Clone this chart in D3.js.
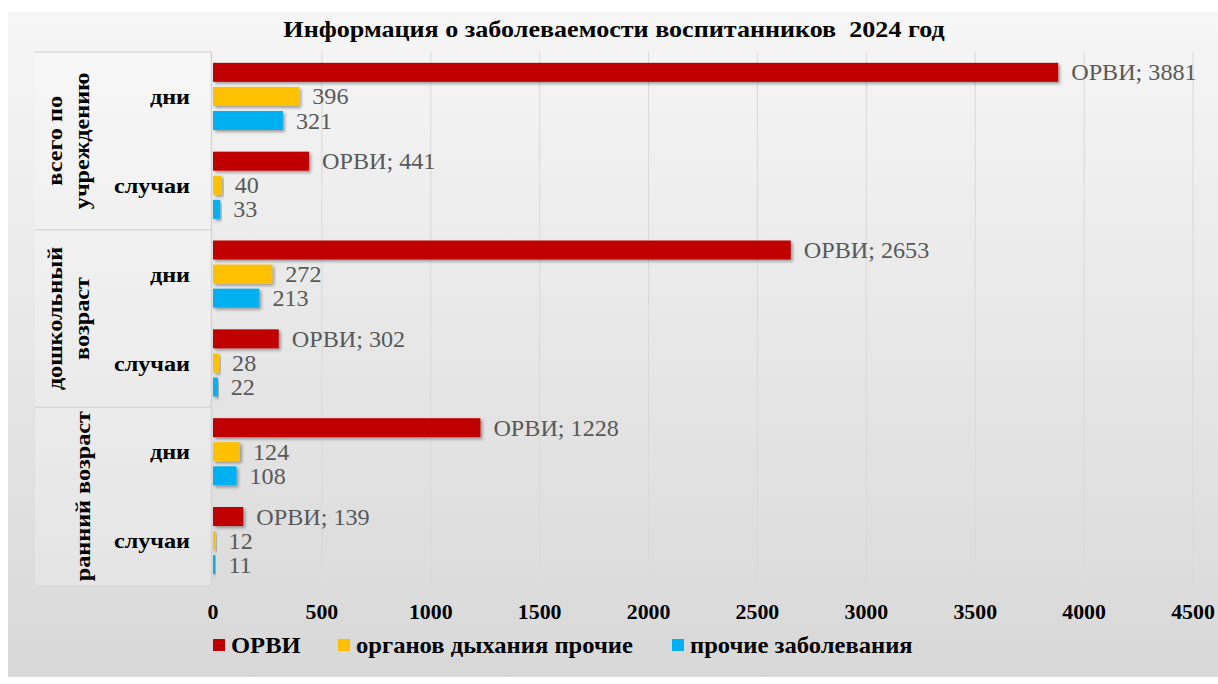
<!DOCTYPE html>
<html>
<head>
<meta charset="utf-8">
<script src="https://cdn.jsdelivr.net/npm/d3@7"></script>
<style>
body { margin: 0; background: #fff; }
svg { display: block; }
</style>
</head>
<body>
<svg id="chart" width="1218" height="684"></svg>
<script>
// data
var groups = ["всего по учреждению", "дошкольный возраст", "ранний возраст"]
var groupLines = [["всего по", "учреждению"], ["дошкольный", "возраст"], ["ранний возраст"]]
var kinds = ["дни", "случаи"]
var seriesNames = ["ОРВИ", "органов дыхания прочие", "прочие заболевания"]
var orvi = [3881, 441, 2653, 302, 1228, 139]
var breath = [396, 40, 272, 28, 124, 12]
var other = [321, 33, 213, 22, 108, 11]
var ticks = [0, 500, 1000, 1500, 2000, 2500, 3000, 3500, 4000, 4500]
var colors = ["#c00000", "#ffc000", "#00b0f0"]

var FONT = "'Liberation Serif', 'Times New Roman', 'DejaVu Serif', serif"
var svg = d3.select("#chart")
var chart = {
	left: 213, right: 1193, top: 52, bottom: 585
}

// text in the picture is a bit wider than the font: stretch it horizontally
function place(x, y, sx, rot) {
	return "translate(" + x + "," + y + ")" + (rot ? " rotate(" + rot + ")" : "") + " scale(" + sx + ",1)"
}

var defs = svg.append("defs")
var grad = defs.append("linearGradient").attr("id", "bg").attr("x1", 0).attr("y1", 0).attr("x2", 0).attr("y2", 1)
grad.append("stop").attr("offset", "0%").attr("stop-color", "#f6f6f6")
grad.append("stop").attr("offset", "100%").attr("stop-color", "#d8d8d8")
defs.append("filter").attr("id", "shadow").attr("x", "-10%").attr("y", "-30%").attr("width", "130%").attr("height", "180%")
	.append("feDropShadow").attr("dx", 2).attr("dy", 2).attr("stdDeviation", 1.5)
	.attr("flood-color", "#000").attr("flood-opacity", 0.35)

svg.append("rect").attr("x", 8).attr("y", 12).attr("width", 1210).attr("height", 665).attr("fill", "url(#bg)")

// rows: group x kind
var rows = []
groups.forEach(function(g, gi) {
	kinds.forEach(function(k, ki) {
		var i = gi * 2 + ki
		rows.push({ id: i, group: gi, kind: k, values: [orvi[i], breath[i], other[i]] })
	})
})

var x = d3.scaleLinear().domain([0, 4500]).range([chart.left, chart.right])
var y = d3.scaleBand().domain(rows.map(function(d) { return d.id })).range([chart.top, chart.bottom])
var yInner = d3.scaleBand().domain([0, 1, 2]).range([0, y.bandwidth()]).paddingInner(0.21).paddingOuter(0.45)

// light box behind category labels
svg.append("rect").attr("x", 35).attr("y", chart.top).attr("width", 176).attr("height", chart.bottom - chart.top)
	.attr("fill", "#ffffff").attr("opacity", 0.25)

// gridlines
svg.append("g").selectAll("line").data(ticks.slice(1)).enter().append("line")
	.attr("x1", function(d) { return x(d) }).attr("x2", function(d) { return x(d) })
	.attr("y1", chart.top).attr("y2", chart.bottom)
	.attr("stroke", "#d9d9d9").attr("stroke-width", 1)

// axis line + group separators
svg.append("line").attr("x1", 211.5).attr("x2", 211.5).attr("y1", chart.top).attr("y2", chart.bottom)
	.attr("stroke", "#d4d4d4").attr("stroke-width", 1.5)
svg.append("g").selectAll("line").data([0, 2, 4]).enter().append("line")
	.attr("x1", 35).attr("x2", 211)
	.attr("y1", function(d) { return y(d) }).attr("y2", function(d) { return y(d) })
	.attr("stroke", "#d9d9d9").attr("stroke-width", 1.5)

// x tick labels
svg.append("g").selectAll("text").data(ticks).enter().append("text")
	.attr("transform", function(d) { return place(x(d), 619, 1.04) })
	.attr("text-anchor", "middle").attr("font-family", FONT)
	.attr("font-weight", "bold").attr("font-size", 21).attr("fill", "#000")
	.text(function(d) { return d })

// bars
var slots = svg.append("g").selectAll("g").data(rows).enter().append("g")
	.attr("transform", function(d) { return "translate(0," + y(d.id) + ")" })

slots.selectAll("rect").data(function(d) { return d.values }).enter().append("rect")
	.attr("x", x(0))
	.attr("y", function(d, i) { return yInner(i) })
	.attr("height", yInner.bandwidth())
	.attr("width", function(d) { return x(d) - x(0) })
	.attr("fill", function(d, i) { return colors[i] })
	.attr("filter", "url(#shadow)")

slots.selectAll("text").data(function(d) { return d.values }).enter().append("text")
	.attr("transform", function(d, i) { return place(x(d) + 13, yInner(i) + yInner.bandwidth() / 2, 1.05) })
	.attr("dy", "0.35em").attr("font-family", FONT)
	.attr("font-size", 23).attr("fill", "#595959")
	.text(function(d, i) { return i == 0 ? "ОРВИ; " + d : d })

// category labels
svg.append("g").selectAll("text").data(rows).enter().append("text")
	.attr("transform", function(d) { return place(190, y(d.id) + y.bandwidth() / 2, 1.1) })
	.attr("dy", "0.35em").attr("text-anchor", "end").attr("font-family", FONT)
	.attr("font-weight", "bold").attr("font-size", 22).attr("fill", "#000")
	.text(function(d) { return d.kind })

// group labels
var gl = svg.append("g").selectAll("text").data(groupLines).enter().append("text")
	.attr("transform", function(d, i) {
		var cy = (y(i * 2) + y(i * 2 + 1) + y.bandwidth()) / 2
		var cx = d.length == 2 ? 54 : 82
		return place(cx, cy, 1.1, -90)
	})
	.attr("text-anchor", "middle").attr("font-family", FONT)
	.attr("font-weight", "bold").attr("font-size", 22).attr("fill", "#000")
gl.selectAll("tspan").data(function(d) { return d }).enter().append("tspan")
	.attr("x", 0).attr("dy", function(d, i) { return i == 0 ? "0.35em" : 27 })
	.text(function(d) { return d })

// title
svg.append("text").attr("transform", place(614, 37, 1.16)).attr("text-anchor", "middle")
	.attr("font-family", FONT)
	.attr("font-weight", "bold").attr("font-size", 22.5).attr("fill", "#000")
	.attr("xml:space", "preserve")
	.text("Информация о заболеваемости воспитанников  2024 год")

// legend
var legendX = [213, 338, 672]
var legend = svg.append("g").selectAll("g").data(seriesNames).enter().append("g")
	.attr("transform", function(d, i) { return "translate(" + legendX[i] + ",645)" })
legend.append("rect").attr("x", 0).attr("y", -6).attr("width", 12).attr("height", 12)
	.attr("fill", function(d, i) { return colors[i] })
legend.append("text").attr("transform", place(18, 0, 1.07)).attr("dy", "0.35em")
	.attr("font-family", FONT)
	.attr("font-weight", "bold").attr("font-size", 23).attr("fill", "#000")
	.text(function(d) { return d })
</script>
</body>
</html>
